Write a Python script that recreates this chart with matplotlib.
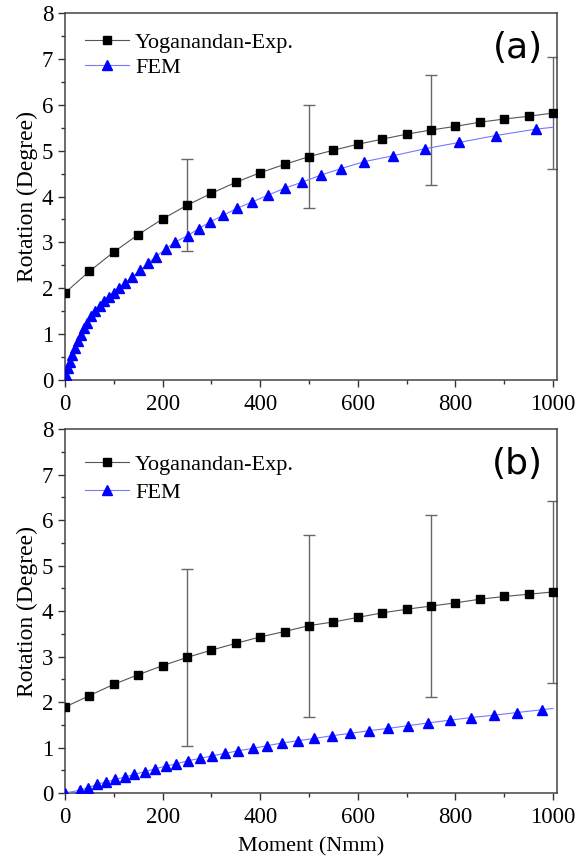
import matplotlib
matplotlib.use("Agg")
import matplotlib.pyplot as plt
from matplotlib.ticker import MultipleLocator

# experimental data (same moments for both panels)
exp_moment = [0, 50, 100, 150, 200, 250, 300, 350, 400, 450, 500,
              550, 600, 650, 700, 750, 800, 850, 900, 950, 1000]
exp_rot_a = [1.90, 2.37, 2.79, 3.17, 3.51, 3.81, 4.07, 4.31, 4.52, 4.70, 4.87,
             5.01, 5.14, 5.25, 5.36, 5.45, 5.53, 5.62, 5.69, 5.75, 5.82]
exp_rot_b = [1.89, 2.14, 2.39, 2.60, 2.80, 2.98, 3.14, 3.29, 3.43, 3.55, 3.68,
             3.76, 3.86, 3.96, 4.04, 4.11, 4.18, 4.26, 4.32, 4.37, 4.42]

err_moment = [250, 500, 750, 1000]
err_a = [1.00, 1.13, 1.20, 1.23]
err_b = [1.94, 2.00, 2.00, 2.00]

# FEM curves (last point is line end only)
fem_x_a = [0, 2, 7, 11, 15, 21, 26, 32, 39, 46, 54, 62, 71, 80, 90, 100, 110,
           123, 138, 154, 171, 186, 207, 226, 252, 274, 298, 324, 352, 383,
           416, 450, 485, 525, 566, 613, 673, 737, 808, 883, 965, 1000]
fem_y_a = [0.0, 0.11, 0.26, 0.40, 0.55, 0.69, 0.84, 0.99, 1.13, 1.25, 1.39,
           1.50, 1.62, 1.73, 1.82, 1.90, 2.00, 2.12, 2.25, 2.39, 2.55, 2.69,
           2.86, 3.01, 3.15, 3.30, 3.45, 3.59, 3.74, 3.88, 4.03, 4.18, 4.31,
           4.47, 4.61, 4.76, 4.89, 5.04, 5.18, 5.33, 5.47, 5.51]
fem_x_b = [0, 30, 48, 65, 84, 103, 123, 142, 163, 184, 206, 228, 252, 277,
           302, 328, 355, 385, 414, 445, 478, 511, 547, 584, 623, 662, 703,
           744, 788, 833, 879, 927, 977, 1000]
fem_y_b = [0.0, 0.06, 0.12, 0.19, 0.24, 0.30, 0.35, 0.41, 0.47, 0.53, 0.59,
           0.64, 0.71, 0.76, 0.82, 0.87, 0.93, 0.98, 1.04, 1.10, 1.15, 1.20,
           1.26, 1.31, 1.37, 1.42, 1.48, 1.54, 1.60, 1.66, 1.71, 1.77, 1.83,
           1.86]

plt.rcParams['font.family'] = ['Liberation Serif', 'DejaVu Serif']

fig = plt.figure(figsize=(5.76, 8.59), dpi=100)
ax_a = fig.add_axes([0.1128, 0.5576, 0.854, 0.4272])
ax_b = fig.add_axes([0.1128, 0.0768, 0.854, 0.4237])


def draw_panel(ax, exp_rot, err, fem_x, fem_y, tag, leg_y, leg_space):
    ax.plot(exp_moment, exp_rot, color="#555555", lw=0.8, marker="s",
            ms=6.3, mfc="black", mec="black", label="Yoganandan-Exp.", zorder=3)
    ax.plot(fem_x, fem_y, color="#7777ff", lw=0.8, marker="^", ms=7.5,
            mfc="#0000ff", mec="#0000ff", markevery=list(range(len(fem_x) - 1)),
            label="FEM", zorder=3)
    err_center = [exp_rot[exp_moment.index(m)] for m in err_moment]
    ax.errorbar(err_moment, err_center, yerr=err, fmt="none", ecolor="#666666",
                elinewidth=1.0, capsize=4, capthick=1.0, zorder=2)

    ax.set_xlim(0, 1008)
    ax.set_ylim(0, 8)
    ax.xaxis.set_major_locator(MultipleLocator(200))
    ax.xaxis.set_minor_locator(MultipleLocator(100))
    ax.yaxis.set_major_locator(MultipleLocator(1))
    ax.yaxis.set_minor_locator(MultipleLocator(0.5))
    ax.tick_params(which="both", direction="out", colors="#333333",
                   labelcolor="black", labelsize=16.5, width=1.0)
    ax.tick_params(which="major", length=5)
    ax.tick_params(which="minor", length=3)
    ax.tick_params(axis="x", pad=5)
    for sp in ax.spines.values():
        sp.set_color("#444444")
        sp.set_linewidth(1.1)
    ax.set_ylabel("Rotation (Degree)", fontsize=17, labelpad=3)

    ax.text(0.92, 0.905, tag, transform=ax.transAxes, ha="center",
            va="center", fontsize=26, family="DejaVu Sans")
    ax.legend(loc="upper left", bbox_to_anchor=(0.0, leg_y), frameon=False,
              fontsize=16, handlelength=2.0, handletextpad=0.25,
              labelspacing=leg_space, borderaxespad=0.5)


draw_panel(ax_a, exp_rot_a, err_a, fem_x_a, fem_y_a, "(a)", 1.003, 0.2)
draw_panel(ax_b, exp_rot_b, err_b, fem_x_b, fem_y_b, "(b)", 0.985, 0.32)
ax_b.set_xlabel("Moment (Nmm)", fontsize=16, labelpad=7)

fig.savefig("out.png", dpi=100)
